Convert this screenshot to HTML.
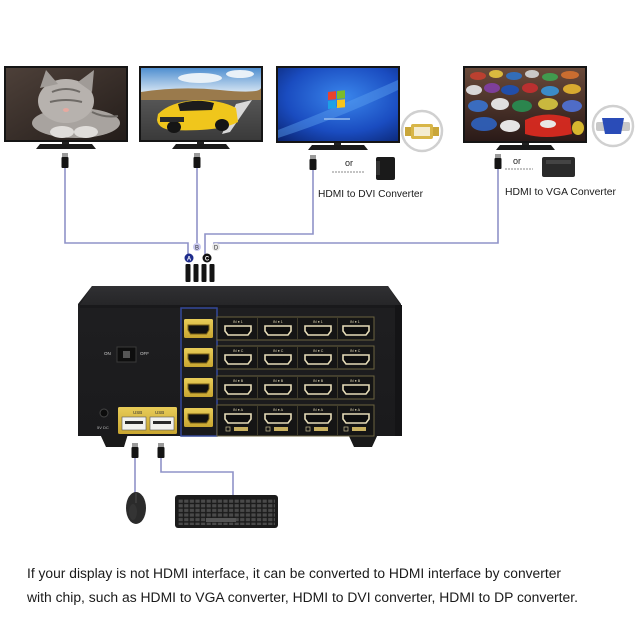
<!DOCTYPE html>
<html><head><meta charset="utf-8"><style>
html,body{margin:0;padding:0;background:#fff;}
svg{display:block;}
text{font-family:"Liberation Sans",Arial,sans-serif;}
</style></head><body>
<svg width="640" height="640" viewBox="0 0 640 640" xmlns="http://www.w3.org/2000/svg">
<defs>
 <linearGradient id="g1" x1="0" y1="0" x2="1" y2="1"><stop offset="0" stop-color="#4d4039"/><stop offset="1" stop-color="#241d1a"/></linearGradient>
 <linearGradient id="sky" x1="0" y1="0" x2="0" y2="1"><stop offset="0" stop-color="#4f8fd0"/><stop offset="1" stop-color="#d3e3f2"/></linearGradient>
 <linearGradient id="road" x1="0" y1="0" x2="0" y2="1"><stop offset="0" stop-color="#6a6a6a"/><stop offset="1" stop-color="#3a3a3a"/></linearGradient>
 <radialGradient id="win" cx="0.55" cy="0.4" r="0.8"><stop offset="0" stop-color="#3a86ec"/><stop offset="0.6" stop-color="#1a4cc0"/><stop offset="1" stop-color="#0a2470"/></radialGradient>
 <linearGradient id="cars" x1="0" y1="0" x2="0" y2="1"><stop offset="0" stop-color="#6a4a3a"/><stop offset="1" stop-color="#2a1a18"/></linearGradient>
 <linearGradient id="lid" x1="0" y1="0" x2="0" y2="1"><stop offset="0" stop-color="#303033"/><stop offset="1" stop-color="#262628"/></linearGradient>
 <linearGradient id="front" x1="0" y1="0" x2="0" y2="1"><stop offset="0" stop-color="#1f1f21"/><stop offset="1" stop-color="#1a1a1c"/></linearGradient>
 <linearGradient id="gold" x1="0" y1="0" x2="0" y2="1"><stop offset="0" stop-color="#e8cc58"/><stop offset="1" stop-color="#c9a630"/></linearGradient>
 <pattern id="keys" x="178" y="499" width="5.6" height="4.6" patternUnits="userSpaceOnUse"><rect x="0.6" y="0.6" width="4.2" height="3.2" fill="#4a4a4a"/></pattern>
 <g id="hin"><path d="M0 0 h26 v5 l-3 4 h-20 l-3 -4 z" fill="#0e0e0e" stroke="#e6dcb8" stroke-width="1.6"/></g>
 <g id="hout"><rect x="-4" y="-6" width="29" height="19" rx="1.5" fill="url(#gold)"/><path d="M0 0 h21 v5 l-2.5 4 h-16 l-2.5 -4 z" fill="#111" stroke="#7a6118" stroke-width="1"/></g>
 <g id="plug"><rect x="-3" y="0" width="6" height="4" fill="#9a9a9a"/><rect x="-3.5" y="4" width="7" height="11" rx="1" fill="#141414"/></g>
</defs>
<rect width="640" height="640" fill="#fff"/>

<!-- TV1 -->
<rect x="4" y="66" width="124" height="76" fill="#151515"/>
<rect x="6" y="68" width="120" height="72" fill="url(#g1)"/>
<ellipse cx="76" cy="123" rx="44" ry="15" fill="#a8a39f"/>
<ellipse cx="66" cy="101" rx="28" ry="22" fill="#b7b2ae"/>
<path d="M40 88 L46 70 L58 84 Z M78 82 L94 70 L92 92 Z" fill="#a09b97"/>
<path d="M52 92 q14 -6 28 0 M50 102 q16 -4 32 0 M92 112 q12 6 26 4" stroke="#6e6a66" stroke-width="2" fill="none"/>
<ellipse cx="62" cy="132" rx="12" ry="6" fill="#e0ddda"/><ellipse cx="86" cy="132" rx="12" ry="6" fill="#e0ddda"/>
<ellipse cx="66" cy="110" rx="3" ry="2" fill="#e6a9a0"/>
<rect x="62" y="142" width="7" height="3" fill="#222"/>
<path d="M40 144 H92 L96 149 H36 Z" fill="#1a1a1a"/>

<!-- TV2 -->
<rect x="139" y="66" width="124" height="76" fill="#151515"/>
<rect x="141" y="68" width="120" height="72" fill="url(#road)"/>
<rect x="141" y="68" width="120" height="24" fill="url(#sky)"/>
<ellipse cx="200" cy="78" rx="22" ry="5" fill="#e9f1f8"/><ellipse cx="240" cy="74" rx="14" ry="4" fill="#e9f1f8"/>
<path d="M141 92 Q180 86 220 90 T261 88 V100 H141 Z" fill="#9a7a4c"/>
<path d="M236 104 L252 100 L230 132 L222 134 Z" fill="#d8d8d8"/>
<path d="M158 114 Q170 102 196 100 Q222 100 236 108 L238 122 Q220 132 170 130 Q158 128 157 120 Z" fill="#f0c61c"/>
<path d="M178 104 Q196 98 214 103 L212 110 L180 111 Z" fill="#1c1c1c"/>
<ellipse cx="174" cy="127" rx="7" ry="6" fill="#151515"/><ellipse cx="222" cy="125" rx="7" ry="6" fill="#151515"/>
<rect x="160" y="117" width="24" height="5" fill="#2a2a2a"/>
<rect x="197" y="142" width="7" height="3" fill="#222"/>
<path d="M176 144 H226 L230 149 H172 Z" fill="#1a1a1a"/>

<!-- TV3 -->
<rect x="276" y="66" width="124" height="77" fill="#151515"/>
<rect x="278" y="68" width="120" height="73" fill="url(#win)"/>
<path d="M278 130 Q330 110 398 80 L398 90 Q340 118 278 138 Z" fill="#5aa0f0" opacity="0.45"/>
<g transform="translate(328 92) skewY(-6)">
 <rect x="0" y="0" width="8" height="8" fill="#e8432e"/><rect x="9" y="0" width="8" height="8" fill="#7cbb2b"/>
 <rect x="0" y="9" width="8" height="8" fill="#1ea0e6"/><rect x="9" y="9" width="8" height="8" fill="#f8c41a"/>
</g>
<rect x="324" y="118" width="26" height="2" fill="#9fc3f0" opacity="0.7"/>
<rect x="334" y="143" width="7" height="3" fill="#222"/>
<path d="M312 145 H364 L368 150 H308 Z" fill="#1a1a1a"/>

<!-- TV4 -->
<rect x="463" y="66" width="124" height="77" fill="#151515"/>
<rect x="465" y="68" width="120" height="73" fill="url(#cars)"/>
<g opacity="0.95">
<ellipse cx="478" cy="76" rx="8" ry="4" fill="#c04030"/><ellipse cx="496" cy="74" rx="7" ry="4" fill="#e0c040"/><ellipse cx="514" cy="76" rx="8" ry="4" fill="#3070c0"/>
<ellipse cx="532" cy="74" rx="7" ry="4" fill="#d0d0d0"/><ellipse cx="550" cy="77" rx="8" ry="4" fill="#40a050"/><ellipse cx="570" cy="75" rx="9" ry="4" fill="#d07030"/>
<ellipse cx="474" cy="90" rx="8" ry="5" fill="#e0e0e0"/><ellipse cx="492" cy="88" rx="8" ry="5" fill="#8040a0"/><ellipse cx="510" cy="90" rx="9" ry="5" fill="#2050b0"/>
<ellipse cx="530" cy="88" rx="8" ry="5" fill="#c03030"/><ellipse cx="550" cy="91" rx="9" ry="5" fill="#3a90d0"/><ellipse cx="572" cy="89" rx="9" ry="5" fill="#e0b030"/>
<ellipse cx="478" cy="106" rx="10" ry="6" fill="#3a70c8"/><ellipse cx="500" cy="104" rx="9" ry="6" fill="#e8e8e8"/><ellipse cx="522" cy="106" rx="10" ry="6" fill="#2a8a50"/>
<ellipse cx="548" cy="104" rx="10" ry="6" fill="#d0c040"/><ellipse cx="572" cy="106" rx="10" ry="6" fill="#5070d0"/>
<ellipse cx="484" cy="124" rx="13" ry="7" fill="#2f5fb8"/><ellipse cx="510" cy="126" rx="10" ry="6" fill="#f0f0f0"/>
<path d="M525 120 Q545 110 570 118 L572 134 Q545 140 525 134 Z" fill="#d82a20"/>
<ellipse cx="548" cy="124" rx="8" ry="4" fill="#f2f2f2"/>
<ellipse cx="578" cy="128" rx="6" ry="7" fill="#e0c030"/>
</g>
<rect x="522" y="143" width="7" height="3" fill="#222"/>
<path d="M500 145 H551 L555 150 H496 Z" fill="#1a1a1a"/>

<!-- DVI circle -->
<circle cx="422" cy="131" r="20" fill="#fff" stroke="#d0d0d0" stroke-width="2.5"/>
<rect x="405" y="127" width="7" height="9" fill="#c9a63a"/><rect x="432" y="127" width="7" height="9" fill="#c9a63a"/>
<rect x="411" y="124" width="22" height="15" rx="2" fill="#d8b648"/>
<rect x="414" y="127" width="16" height="9" fill="#f4ecd0"/>

<!-- VGA circle -->
<circle cx="613" cy="126" r="20" fill="#fff" stroke="#d0d0d0" stroke-width="2.5"/>
<rect x="596" y="122" width="34" height="9" rx="2" fill="#c8c8c8"/>
<path d="M602 118 H624 L621 134 H605 Z" fill="#2a4cb8"/>

<!-- plugs under TVs -->
<use href="#plug" x="65" y="153"/>
<use href="#plug" x="197" y="153"/>
<use href="#plug" x="313" y="155"/>
<use href="#plug" x="498" y="154"/>

<!-- or / converters -->
<text x="345" y="166" font-size="9" fill="#222">or</text>
<line x1="332" y1="172" x2="365" y2="172" stroke="#888" stroke-width="1" stroke-dasharray="2 1"/>
<rect x="376" y="157" width="19" height="23" rx="2" fill="#1a1a1a"/><rect x="376" y="161" width="4" height="14" fill="#333"/>
<text x="318" y="197" font-size="10" fill="#1a1a1a" textLength="105" lengthAdjust="spacingAndGlyphs">HDMI to DVI Converter</text>
<text x="513" y="164" font-size="9" fill="#222">or</text>
<line x1="505" y1="169" x2="533" y2="169" stroke="#888" stroke-width="1" stroke-dasharray="2 1"/>
<rect x="542" y="157" width="33" height="20" rx="2" fill="#2a2a2a"/><rect x="546" y="160" width="25" height="4" fill="#444"/>
<text x="505" y="195" font-size="10" fill="#1a1a1a" textLength="111" lengthAdjust="spacingAndGlyphs">HDMI to VGA Converter</text>

<!-- cables -->
<g fill="none" stroke="#8f93c8" stroke-width="1.6">
<path d="M65 168 V243 H188 V256"/>
<path d="M197 168 V245"/>
<path d="M313 170 V234 H205 V256"/>
<path d="M498 169 V243 H214 V245"/>
<path d="M135 455 V494"/>
<path d="M161 455 V472 H233 V495"/>
</g>
<!-- labels A-D -->
<circle cx="189" cy="258" r="4.5" fill="#1e2c8c"/><text x="189" y="260.5" font-size="6" fill="#fff" text-anchor="middle" font-weight="bold">A</text>
<circle cx="197" cy="247" r="4" fill="#c8c8f0"/><text x="197" y="249.5" font-size="6" fill="#333" text-anchor="middle">B</text>
<circle cx="207" cy="258" r="4.5" fill="#111"/><text x="207" y="260.5" font-size="6" fill="#fff" text-anchor="middle" font-weight="bold">C</text>
<circle cx="216" cy="247" r="4" fill="#e8e8e8"/><text x="216" y="249.5" font-size="6" fill="#333" text-anchor="middle">D</text>
<!-- plugs above box -->
<g fill="#141414">
<rect x="185.5" y="264" width="5" height="18" rx="1"/><rect x="193.5" y="264" width="5" height="18" rx="1"/>
<rect x="201.5" y="264" width="5" height="18" rx="1"/><rect x="209.5" y="264" width="5" height="18" rx="1"/>
</g>

<!-- KVM box -->
<path d="M100 434 H128 L124 447 H106 Z" fill="#1a1a1a"/>
<path d="M348 434 H378 L372 447 H354 Z" fill="#1a1a1a"/>
<path d="M92 286 H388 L401 304 V436 H78 V304 Z" fill="url(#front)"/>
<path d="M92 286 H388 L400 305 H80 Z" fill="url(#lid)"/>
<rect x="80" y="305" width="321" height="3" fill="#19191b"/>
<rect x="395" y="305" width="7" height="131" fill="#141416"/>
<!-- blue highlight -->
<rect x="181" y="308" width="36" height="128" fill="none" stroke="#34489a" stroke-width="1.5"/>

<!-- switch -->
<text x="104" y="355" font-size="4.5" fill="#cfcfcf">ON</text>
<rect x="117" y="347" width="19" height="15" fill="#0e0e0e" stroke="#3a3a3a" stroke-width="1"/>
<rect x="123" y="351" width="7" height="7" fill="#555"/>
<text x="140" y="355" font-size="4.5" fill="#cfcfcf">OFF</text>
<!-- DC -->
<circle cx="104" cy="413" r="4" fill="#0c0c0c" stroke="#444" stroke-width="1"/>
<text x="97" y="429" font-size="4" fill="#bbb">5V DC</text>
<!-- USB block -->
<rect x="118" y="407" width="59" height="27" rx="1.5" fill="url(#gold)"/>
<text x="133" y="414" font-size="4.5" fill="#333">USB</text><text x="155" y="414" font-size="4.5" fill="#333">USB</text>
<rect x="122" y="417" width="24" height="13" fill="#f2f2ee" stroke="#555" stroke-width="0.6"/><rect x="125" y="421" width="18" height="3" fill="#2a2a2a"/>
<rect x="150" y="417" width="24" height="13" fill="#f2f2ee" stroke="#555" stroke-width="0.6"/><rect x="153" y="421" width="18" height="3" fill="#2a2a2a"/>

<!-- port rows -->
<g fill="#151515" stroke="#6b6340" stroke-width="1">
<rect x="217" y="317" width="157" height="23"/>
<rect x="217" y="346" width="157" height="23"/>
<rect x="217" y="376" width="157" height="23"/>
<rect x="217" y="405" width="157" height="31"/>
</g>
<g stroke="#4a4530" stroke-width="0.8">
<line x1="257.5" y1="318" x2="257.5" y2="339"/><line x1="297.5" y1="318" x2="297.5" y2="339"/><line x1="337.5" y1="318" x2="337.5" y2="339"/>
<line x1="257.5" y1="347" x2="257.5" y2="368"/><line x1="297.5" y1="347" x2="297.5" y2="368"/><line x1="337.5" y1="347" x2="337.5" y2="368"/>
<line x1="257.5" y1="377" x2="257.5" y2="398"/><line x1="297.5" y1="377" x2="297.5" y2="398"/><line x1="337.5" y1="377" x2="337.5" y2="398"/>
<line x1="257.5" y1="406" x2="257.5" y2="435"/><line x1="297.5" y1="406" x2="297.5" y2="435"/><line x1="337.5" y1="406" x2="337.5" y2="435"/>
</g>
<!-- outputs -->
<use href="#hout" x="188" y="325"/>
<use href="#hout" x="188" y="354"/>
<use href="#hout" x="188" y="384"/>
<use href="#hout" x="188" y="414"/>
<g font-size="3.6" fill="#e6dcb8">
<text x="233" y="323">IN ● 1</text><text x="273" y="323">IN ● 1</text><text x="313" y="323">IN ● 1</text><text x="350" y="323">IN ● 1</text>
<text x="233" y="352">IN ● C</text><text x="273" y="352">IN ● C</text><text x="313" y="352">IN ● C</text><text x="350" y="352">IN ● C</text>
<text x="233" y="382">IN ● B</text><text x="273" y="382">IN ● B</text><text x="313" y="382">IN ● B</text><text x="350" y="382">IN ● B</text>
<text x="233" y="411">IN ● A</text><text x="273" y="411">IN ● A</text><text x="313" y="411">IN ● A</text><text x="350" y="411">IN ● A</text>
</g>
<g>
<use href="#hin" x="225" y="326"/><use href="#hin" x="265" y="326"/><use href="#hin" x="305" y="326"/><use href="#hin" x="343" y="326"/>
<use href="#hin" x="225" y="355"/><use href="#hin" x="265" y="355"/><use href="#hin" x="305" y="355"/><use href="#hin" x="343" y="355"/>
<use href="#hin" x="225" y="385"/><use href="#hin" x="265" y="385"/><use href="#hin" x="305" y="385"/><use href="#hin" x="343" y="385"/>
<use href="#hin" x="225" y="414"/><use href="#hin" x="265" y="414"/><use href="#hin" x="305" y="414"/><use href="#hin" x="343" y="414"/>
</g>
<g fill="none" stroke="#c8bc90" stroke-width="0.7">
<rect x="226" y="427" width="4" height="4"/><rect x="266" y="427" width="4" height="4"/><rect x="306" y="427" width="4" height="4"/><rect x="344" y="427" width="4" height="4"/>
</g>
<g fill="#c8b060">
<rect x="234" y="427" width="14" height="4"/><rect x="274" y="427" width="14" height="4"/><rect x="314" y="427" width="14" height="4"/><rect x="352" y="427" width="14" height="4"/>
</g>

<!-- usb plugs below -->
<use href="#plug" x="135" y="443"/>
<use href="#plug" x="161" y="443"/>

<!-- mouse -->
<ellipse cx="136" cy="508" rx="10" ry="16" fill="#2b2b2b"/>
<path d="M136 493 V503" stroke="#555" stroke-width="0.8"/>
<ellipse cx="133" cy="512" rx="4" ry="8" fill="#3a3a3a" opacity="0.6"/>
<!-- keyboard -->
<rect x="175" y="495" width="103" height="33" rx="3" fill="#1b1b1b"/>
<rect x="178" y="499" width="97" height="26" fill="url(#keys)"/>
<rect x="206" y="518" width="30" height="4" fill="#555"/>

<!-- bottom text -->
<text x="27" y="578" font-size="13.5" fill="#1a1a1a" textLength="534" lengthAdjust="spacingAndGlyphs">If your display is not HDMI interface, it can be converted to HDMI interface by converter</text>
<text x="27" y="602" font-size="13.5" fill="#1a1a1a" textLength="551" lengthAdjust="spacingAndGlyphs">with chip, such as HDMI to VGA converter, HDMI to DVI converter, HDMI to DP converter.</text>
</svg>
</body></html>
